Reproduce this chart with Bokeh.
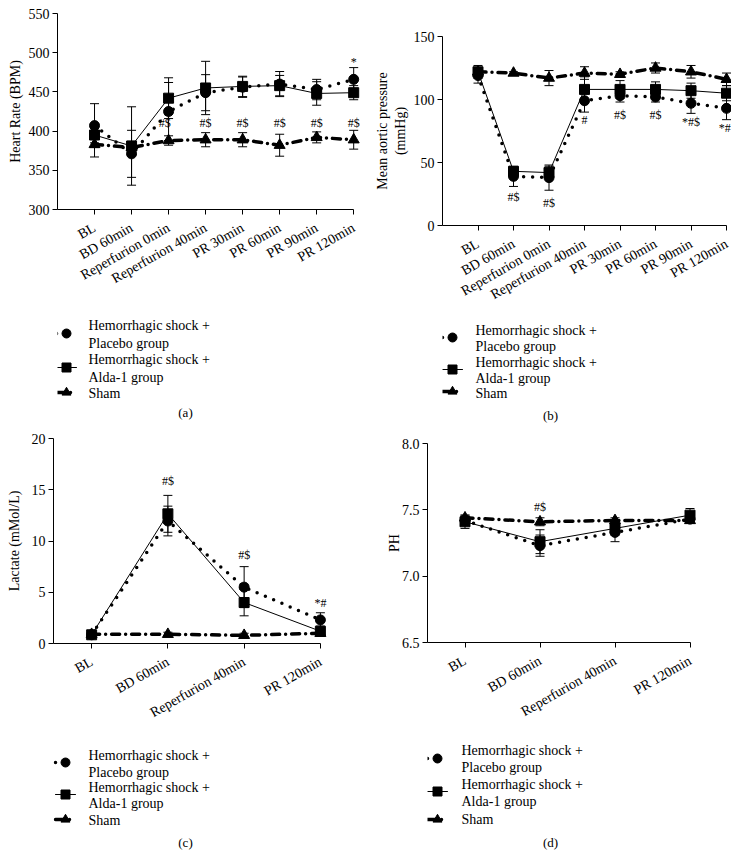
import numpy as np
from bokeh.plotting import figure
from bokeh.layouts import column, row
from bokeh.models import (Range1d, FixedTicker, Whisker, TeeHead, ColumnDataSource,
                          Label, NumeralTickFormatter)
from bokeh.core.properties import value
from bokeh.embed import file_html
from bokeh.resources import INLINE

FONT = "Liberation Serif"

# ---------------- data ----------------
hr_categories = ["BL", "BD 60min", "Reperfurion 0min", "Reperfurion 40min",
                 "PR 30min", "PR 60min", "PR 90min", "PR 120min"]
hr_placebo = [407, 371, 425, 449, 456, 460, 453, 466]
hr_placebo_err = [28, 30, 37, 23, 13, 16, 13, 15]
hr_alda = [395, 381, 442, 455, 457, 458, 448, 449]
hr_alda_err = [10, 50, 26, 34, 13, 13, 15, 9]
hr_sham = [383, 379, 388, 389, 389, 382, 392, 389]
hr_sham_err = [16, 8, 6, 9, 9, 14, 7, 12]
hr_note_x = [1.9, 3, 4, 5, 6, 7, 7]
hr_note_y = [410, 410, 410, 410, 410, 410, 488]
hr_note_text = ["#$", "#$", "#$", "#$", "#$", "#$", "*"]

map_categories = hr_categories
map_placebo = [119, 39, 38, 99, 103, 102, 97, 93]
map_placebo_err = [6, 8, 10, 9, 5, 4, 8, 9]
map_alda = [122, 43, 42, 108, 108, 108, 107, 105]
map_alda_err = [5, 3, 5, 10, 7, 6, 6, 6]
map_sham = [122, 121, 117, 121, 120, 125, 122, 116]
map_sham_err = [3, 1, 6, 5, 2, 4, 5, 5]
map_note_x = [1, 2, 3, 4, 5, 6, 6.95]
map_note_y = [23, 18, 84, 88, 88, 82, 77]
map_note_text = ["#$", "#$", "#", "#$", "#$", "*#$", "*#"]

lab_categories = ["BL", "BD 60min", "Reperfurion 40min", "PR 120min"]
lac_placebo = [0.85, 11.95, 5.5, 2.3]
lac_placebo_err = [0.1, 1.45, 2.0, 0.7]
lac_alda = [0.85, 12.65, 4.0, 1.2]
lac_alda_err = [0.1, 1.8, 1.3, 0.5]
lac_sham = [0.9, 0.9, 0.8, 1.0]
lac_sham_err = [0.1, 0.2, 0.2, 0.2]
lac_note_x = [1, 2, 3]
lac_note_y = [15.9, 8.6, 4.0]
lac_note_text = ["#$", "#$", "*#"]

ph_placebo = [7.42, 7.23, 7.33, 7.43]
ph_placebo_err = [0.03, 0.08, 0.07, 0.03]
ph_alda = [7.41, 7.26, 7.36, 7.46]
ph_alda_err = [0.05, 0.09, 0.05, 0.05]
ph_sham = [7.44, 7.41, 7.42, 7.42]
ph_sham_err = [0.02, 0.03, 0.02, 0.02]
ph_note_x = [1]
ph_note_y = [7.52]
ph_note_text = ["#$"]

legend_lines = ["Hemorrhagic shock +", "Placebo group",
                "Hemorrhagic shock +", "Alda-1 group", "Sham"]

STYLES = [
    dict(line_dash="0 9", leg_dash="0 10", line_width=3.5, marker="circle", size=10),
    dict(line_dash="solid", leg_dash="solid", line_width=1, marker="square", size=10),
    dict(line_dash="8 6 0 6", leg_dash="8 6 0 6", line_width=3.5, marker="triangle", size=11),
]


def make_chart(cats, series, yr, yticks, ylabel, notes, xr, dims, lab_standoff, yfmt=None):
    w, h, bl, br, bt, bb = dims
    p = figure(width=w, height=h, output_backend="svg", toolbar_location=None,
               title_location=None,
               x_range=Range1d(*xr), y_range=Range1d(*yr),
               min_border_left=bl, min_border_right=br,
               min_border_top=bt, min_border_bottom=bb)
    p.outline_line_color = None
    p.grid.visible = False

    x = list(range(len(cats)))
    for (vals, errs), st in zip(series, STYLES):
        src = ColumnDataSource(dict(x=x, y=vals,
                                    upper=[v + e for v, e in zip(vals, errs)],
                                    lower=[v - e for v, e in zip(vals, errs)]))
        wk = Whisker(base="x", upper="upper", lower="lower", source=src,
                     line_color="black", line_width=1,
                     upper_head=TeeHead(size=9, line_width=1, line_color="black"),
                     lower_head=TeeHead(size=9, line_width=1, line_color="black"))
        p.add_layout(wk)
        p.line("x", "y", source=src, line_color="black", line_width=st["line_width"],
               line_dash=st["line_dash"], line_cap="round")
        p.scatter("x", "y", source=src, marker=st["marker"], size=st["size"],
                  fill_color="black", line_color="black")

    nx, ny, nt = notes
    p.text(x=nx, y=ny, text=nt, text_font=value(FONT), text_font_size="12px",
           text_align="center", text_baseline="middle", text_color="black")

    p.xaxis.ticker = FixedTicker(ticks=x)
    p.xaxis.bounds = (xr[0], len(cats) - 1)
    p.xaxis.major_label_overrides = {i: c for i, c in enumerate(cats)}
    p.xaxis.major_label_orientation = 0.52
    p.yaxis.ticker = FixedTicker(ticks=yticks)
    if yfmt:
        p.yaxis.formatter = NumeralTickFormatter(format=yfmt)
    for ax in (p.xaxis, p.yaxis):
        ax.axis_line_color = "black"
        ax.major_tick_line_color = "black"
        ax.major_tick_out = 5
        ax.major_tick_in = 0
        ax.minor_tick_line_color = None
        ax.major_label_text_font = FONT
        ax.major_label_text_font_size = "14px"
        ax.major_label_text_color = "black"
        ax.major_label_standoff = 3
    p.xaxis.major_label_standoff = 12
    p.yaxis.axis_label = ylabel
    p.yaxis.axis_label_text_font = FONT
    p.yaxis.axis_label_text_font_size = "14px"
    p.yaxis.axis_label_text_font_style = "normal"
    p.yaxis.axis_label_text_color = "black"
    p.yaxis.axis_label_standoff = lab_standoff
    return p


def make_legend(w, h, bl, br, page_left, page_bottom, spec):
    """Legend panel below a chart; layout given in page pixels."""
    fw = w - bl - br
    f = figure(width=w, height=h, output_backend="svg", toolbar_location=None,
               title_location=None, x_range=Range1d(0, fw), y_range=Range1d(0, h),
               min_border_left=bl, min_border_right=br, min_border_top=0, min_border_bottom=0,
               x_axis_location=None, y_axis_location=None)
    f.outline_line_color = None
    f.grid.visible = False
    sx = spec["sym_x"] - page_left
    for st, sy_page in zip(STYLES, spec["sym_y"]):
        sy = page_bottom - sy_page
        f.line(x=[sx - 10, sx + 10], y=[sy, sy], line_color="black",
               line_width=st["line_width"], line_dash=st["leg_dash"], line_cap="round")
        f.scatter(x=[sx], y=[sy], marker=st["marker"], size=9,
                  fill_color="black", line_color="black")
    tx = spec["text_x"] - page_left
    for txt, ly in zip(legend_lines, spec["line_y"]):
        f.add_layout(Label(x=tx, y=page_bottom - ly, text=txt, text_align="left",
                           text_baseline="middle", text_font=FONT,
                           text_font_size="14px", text_color="black"))
    cx, cy = spec["cap_xy"]
    f.add_layout(Label(x=cx - page_left, y=page_bottom - cy, text=spec["cap"],
                       text_align="center", text_baseline="middle",
                       text_font=FONT, text_font_size="13px", text_color="black"))
    return f


# chart geometry: (width, height, border_left, border_right, border_top, border_bottom)
A_DIMS = (369, 312, 57, 1, 13, 103)
B_DIMS = (362, 321, 73, 0, 36, 96)
C_DIMS = (369, 310, 53, 11, 10, 95)
D_DIMS = (362, 310, 58, 4, 15, 96)

pa = make_chart(hr_categories,
                [(hr_placebo, hr_placebo_err), (hr_alda, hr_alda_err), (hr_sham, hr_sham_err)],
                (300, 550), [300, 350, 400, 450, 500, 550], "Heart Rate (BPM)",
                (hr_note_x, hr_note_y, hr_note_text), (-1, 7.4), A_DIMS, 3)
pb = make_chart(map_categories,
                [(map_placebo, map_placebo_err), (map_alda, map_alda_err), (map_sham, map_sham_err)],
                (0, 150), [0, 50, 100, 150], "Mean aortic pressure\n(mmHg)",
                (map_note_x, map_note_y, map_note_text), (-1, 7.14), B_DIMS, 3)
pc = make_chart(lab_categories,
                [(lac_placebo, lac_placebo_err), (lac_alda, lac_alda_err), (lac_sham, lac_sham_err)],
                (0, 20), [0, 5, 10, 15, 20], "Lactate (mMol/L)",
                (lac_note_x, lac_note_y, lac_note_text), (-0.5, 3.5), C_DIMS, 7)
pd_ = make_chart(lab_categories,
                 [(ph_placebo, ph_placebo_err), (ph_alda, ph_alda_err), (ph_sham, ph_sham_err)],
                 (6.5, 8.0), [6.5, 7.0, 7.5, 8.0], "PH",
                 (ph_note_x, ph_note_y, ph_note_text), (-0.5, 3.5), D_DIMS, -3, yfmt="0.0")

LEG_A = dict(sym_x=66, sym_y=[333, 367, 392], text_x=88,
             line_y=[325, 343, 359, 377, 393], cap="(a)", cap_xy=(185, 412))
LEG_B = dict(sym_x=452, sym_y=[337, 369, 391], text_x=475,
             line_y=[330, 346, 362, 378, 393], cap="(b)", cap_xy=(550, 415))
LEG_C = dict(sym_x=65, sym_y=[762, 794, 819], text_x=88,
             line_y=[755, 772, 787, 803, 820], cap="(c)", cap_xy=(185, 842))
LEG_D = dict(sym_x=437, sym_y=[758, 791, 819], text_x=461,
             line_y=[750, 767, 784, 801, 819], cap="(d)", cap_xy=(550, 842))

la = make_legend(369, 428 - 312, 57, 1, 57, 428, LEG_A)
lb = make_legend(362, 428 - 321, 73, 0, 442, 428, LEG_B)
lc = make_legend(369, 122, 53, 11, 53, 860, LEG_C)
ld = make_legend(362, 122, 58, 4, 427, 860, LEG_D)

layout = column(row(column(pa, la), column(pb, lb)),
                row(column(pc, lc), column(pd_, ld)))

open("out.html", "w").write(file_html(layout, INLINE))
